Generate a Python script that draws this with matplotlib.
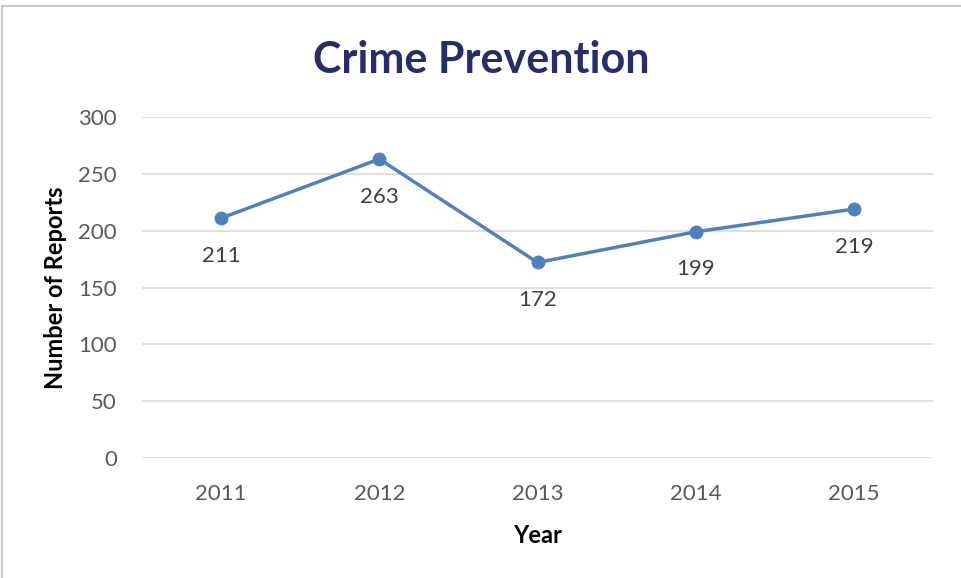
import matplotlib.pyplot as plt

years = ["2011", "2012", "2013", "2014", "2015"]
reports = [211, 263, 172, 199, 219]
y_ticks = [0, 50, 100, 150, 200, 250, 300]

plt.rcParams['font.family'] = ['Lato', 'DejaVu Sans']

fig = plt.figure(figsize=(9.61, 5.78), dpi=100)
ax = fig.add_axes([142 / 961, 1 - 458 / 578, 791 / 961, 341 / 578])

x = list(range(len(years)))
ax.plot(x, reports, color="#4f81bd", linewidth=2.5, marker="o", markersize=9, zorder=3)

for xi, v in zip(x, reports):
    ax.annotate(str(v), (xi, v), xytext=(0, -27), textcoords="offset points",
                ha="center", va="center", fontsize=16, color="#404040")

ax.set_xlim(-0.5, len(years) - 0.5)
ax.set_ylim(0, 300)
ax.set_yticks(y_ticks)
ax.set_xticks(x)
ax.set_xticklabels(years)
ax.grid(axis="y", color="#d9d9d9", linewidth=1.2)
ax.set_axisbelow(True)
for s in ax.spines.values():
    s.set_visible(False)
ax.tick_params(length=0, labelsize=16, labelcolor="#595959")
ax.tick_params(axis="y", pad=18)
ax.tick_params(axis="x", pad=19)

ax.set_xlabel("Year", fontsize=17, fontweight="bold", labelpad=14)
ax.set_ylabel("Number of Reports", fontsize=17, fontweight="bold", labelpad=8)
fig.text(481 / 961, 1 - 60 / 578, "Crime Prevention", ha="center", va="center",
         fontsize=31, fontweight="bold", color="#262d6b")

# thin frame along the top and left edges
fig.add_artist(plt.Line2D([2 / 961, 1], [1 - 6 / 578, 1 - 6 / 578], color="#bfbfbf", linewidth=1.2))
fig.add_artist(plt.Line2D([2 / 961, 2 / 961], [0, 1 - 6 / 578], color="#bfbfbf", linewidth=1.2))

fig.savefig("out.png", dpi=100, facecolor="white")
